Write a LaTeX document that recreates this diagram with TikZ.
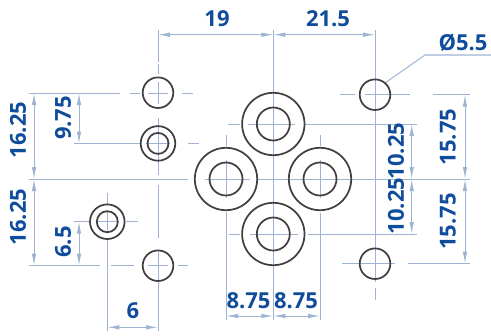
\documentclass[tikz,border=0pt]{standalone}
\usepackage{fontspec}
\setmainfont{Open Sans}
\usetikzlibrary{arrows.meta}
\definecolor{dimc}{HTML}{9FB3D3}
\definecolor{txtc}{HTML}{0F4C9C}
\definecolor{ringc}{HTML}{404040}
\tikzset{
  x=0.75pt,y=-0.75pt,
  cl/.style={draw=dimc,line width=0.75pt},
  dimline/.style={draw=dimc,line width=0.75pt,{Latex[length=9pt,width=3.4pt,fill=dimc]}-{Latex[length=9pt,width=3.4pt,fill=dimc]}},
  ring/.style={draw=ringc,line width=1.3pt},
  lbl/.style={text=txtc,font=\fontsize{16.5}{16.5}\selectfont\bfseries,inner sep=0pt},
  vlbl/.style={lbl,rotate=90},
}
\begin{document}
\begin{tikzpicture}
\useasboundingbox (0,0) rectangle (491,335);
% centre lines: verticals
\draw[cl] (158,30)--(158,62) (158,64)--(158,74) (158,82)--(158,104) (158,118)--(158,175) (158,185)--(158,238) (158,250)--(158,331);
\draw[cl] (107.3,193)--(107.3,205) (107.3,212)--(107.3,231) (107.3,240)--(107.3,331);
\draw[cl] (273.3,30)--(273.3,320);
\draw[cl] (226,135)--(226,146) (226,160)--(226,198) (226,212)--(226,320);
\draw[cl] (320,135)--(320,146) (320,160)--(320,198) (320,213)--(320,320);
\draw[cl] (375,30)--(375,282) (375,288)--(375,300);
% centre lines: horizontals
\draw[cl] (29,93)--(120,93) (130,93)--(140,93) (148,93)--(168,93) (182,93)--(193,93);
\draw[cl] (74,143.5)--(140,143.5) (146,143.5)--(170,143.5) (188,143.5)--(199,143.5);
\draw[cl] (29,179)--(188,179) (205,179)--(250,179) (256,179)--(470,179);
\draw[cl] (74,221.7)--(90,221.7) (97,221.7)--(118,221.7) (126,221.7)--(138,221.7);
\draw[cl] (29,265.7)--(100,265.7) (111,265.7)--(134,265.7) (148,265.7)--(168,265.7) (178,265.7)--(188,265.7);
\draw[cl] (228,124)--(240,124) (248,124)--(295,124) (305,124)--(417,124);
\draw[cl] (229,234)--(240,234) (250,234)--(298,234) (308,234)--(417,234);
\draw[cl] (340,94.7)--(355,94.7) (365,94.7)--(410,94.7) (433,94.7)--(470,94.7);
\draw[cl] (342,263.7)--(395,263.7) (408,263.7)--(470,263.7);
% dimension lines
\coordinate (t1) at (158,34.7); \coordinate (t2) at (273.3,34.7); \coordinate (t3) at (375,34.7);
\draw[dimline] (t1)--(t2);
\draw[dimline] (t2)--(t3);
\coordinate (b1) at (226,316); \coordinate (b2) at (273.3,316); \coordinate (b3) at (320,316);
\draw[dimline] (b1)--(b2);
\draw[dimline] (b2)--(b3);
\coordinate (s1) at (107.3,327.3); \coordinate (s2) at (158,327.3);
\draw[dimline] (s1)--(s2);
\coordinate (l1) at (34,93); \coordinate (l2) at (34,179); \coordinate (l3) at (34,265.7);
\draw[dimline] (l1)--(l2);
\draw[dimline] (l2)--(l3);
\coordinate (m1) at (79,93); \coordinate (m2) at (79,143.5); \coordinate (m3) at (79,221.7); \coordinate (m4) at (79,265.7);
\draw[dimline] (m1)--(m2);
\draw[dimline] (m3)--(m4);
\coordinate (r1) at (411.7,124); \coordinate (r2) at (411.7,179); \coordinate (r3) at (411.7,234);
\draw[dimline] (r1)--(r2);
\draw[dimline] (r2)--(r3);
\coordinate (q1) at (465,94.7); \coordinate (q2) at (465,179); \coordinate (q3) at (465,263.7);
\draw[dimline] (q1)--(q2);
\draw[dimline] (q2)--(q3);
% leader
\coordinate (la) at (385,83); \coordinate (lb) at (425,55); \coordinate (lc) at (491,55);
\draw[cl] (la)--(lb)--(lc);
% circles
\draw[ring] (158,92.7) circle (15.3);
\draw[ring] (375,94.7) circle (15.3);
\draw[ring] (158,265.7) circle (15.3);
\draw[ring] (375,263.7) circle (15.3);
\foreach \p in {(158,143.4),(107.3,221.7)} {
  \draw[ring] \p circle (17.3);
  \draw[ring] \p circle (10.5);
}
\foreach \p in {(273.3,124),(226,179),(320,179),(273.3,234)} {
  \draw[ring] \p circle (31.2);
  \draw[ring] \p circle (16.5);
}
% labels
\node[lbl] (n19) at (217,19) {19};
\node[lbl] (n215) at (328,19) {21.5};
\node[lbl] (nd) at (463,43) {Ø5.5};
\node[vlbl] (n16a) at (18,130) {16.25};
\node[vlbl] (n16b) at (18,217) {16.25};
\node[vlbl] (n975) at (63,118) {9.75};
\node[vlbl] (n65) at (63,242) {6.5};
\node[lbl] (n6) at (133,311) {6};
\node[lbl] (n875a) at (248.5,301) {8.75};
\node[lbl] (n875b) at (296,301) {8.75};
\node[vlbl] (n10a) at (396,151) {10.25};
\node[vlbl] (n10b) at (396,206) {10.25};
\node[vlbl] (n15a) at (448,137) {15.75};
\node[vlbl] (n15b) at (448,221.5) {15.75};
\end{tikzpicture}
\end{document}
